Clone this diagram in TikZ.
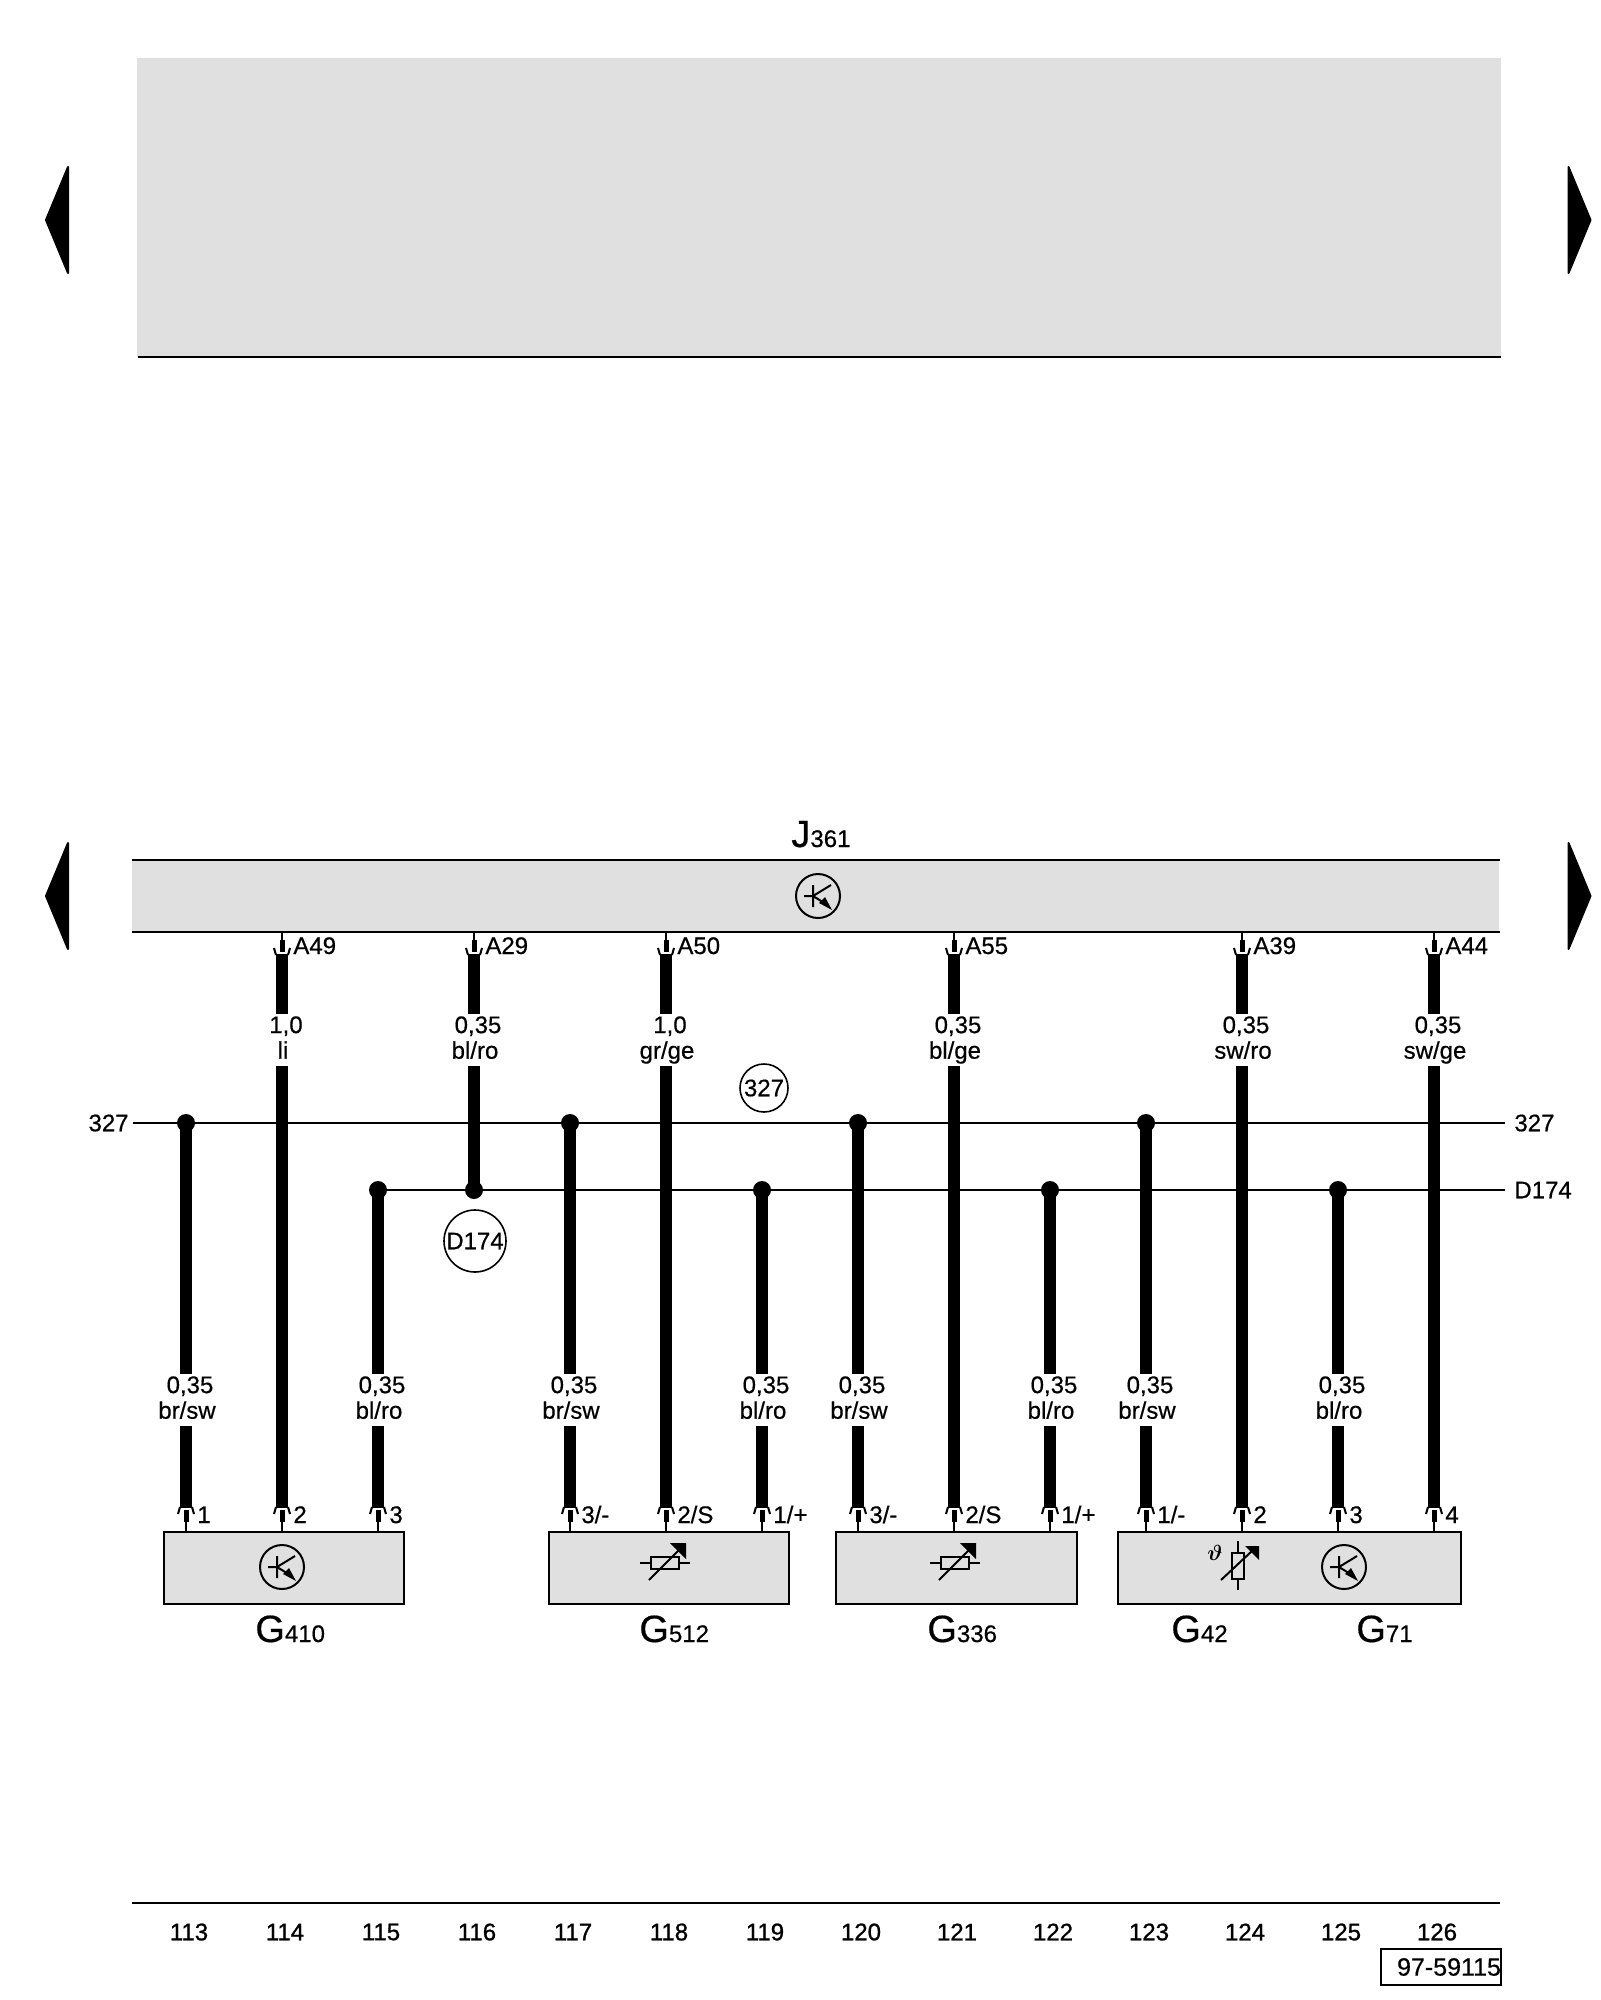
\documentclass[tikz,border=0pt]{standalone}
\usepackage{bm}
\usepackage{fontspec}
\setmainfont{Liberation Sans}[FakeBold=0.5]
\newfontfamily\footfont{Liberation Sans}[FakeBold=1.0]
\begin{document}
\begin{tikzpicture}[x=0.5pt, y=-0.5pt, every node/.style={align=center}]
    \definecolor{panelgray}{HTML}{E0E0E0}
    \tikzset{
      labeltxt/.style={font=\fontsize{12}{12.8}\selectfont},
      rule/.style={line width=1pt},
      bus/.style={line width=0.8pt},
      wire/.style={line width=6.4pt},
      wirelabel/.style={labeltxt, fill=white, inner xsep=1pt, inner ysep=0pt, minimum height=26pt},
      pinlabel/.style={labeltxt, inner sep=0pt, anchor=base west},
      buslabel/.style={labeltxt, inner ysep=0pt, inner xsep=2pt},
      junction/.style={circle, fill=black, inner sep=0pt, minimum size=9pt},
      ringlabel/.style={labeltxt, circle, draw, line width=0.8pt, inner sep=0pt},
      sensorbox/.style={draw, fill=panelgray, line width=1pt, inner sep=0pt, anchor=north west, minimum height=36pt},
      bigname/.style={font=\fontsize{19}{19}\selectfont, inner sep=0pt, anchor=base west},
      flag/.style={fill=black, line width=1pt, draw, line join=round},
      pinend/.pic={
        \draw[line width=1pt] (-8,6) .. controls (-7.5,3) and (-6.5,2) .. (-6,-1);
        \draw[line width=1pt] (8,6) .. controls (7.5,3) and (6.5,2) .. (6,-1);
        \draw[line width=2.5pt] (0,2) -- (0,14);
        \draw[line width=0.8pt] (0,14) -- (0,23);
      },
      hallsym/.pic={
        \draw[line width=1pt] (0,0) circle [radius=22];
        \draw[line width=1pt] (-5,-11) -- (-5,11) (-14,0) -- (-5,0) -- (13,-11) (-5,0) -- (8,8);
        \fill (14,14) -- (1,7) -- (7,1) -- cycle;
      },
      varres/.pic={
        \draw[line width=1pt] (-25,0) -- (-14,0) (14,0) -- (25,0);
        \draw[line width=1pt] (-14,-6) rectangle (14,6);
        \draw[line width=1pt] (-16,17) -- (16,-15);
        \fill (5,-20) -- (21,-20) -- (21,-4) -- cycle;
      },
      varresv/.pic={
        \draw[line width=1pt] (0,-25) -- (0,-13) (0,13) -- (0,24);
        \draw[line width=1pt] (-6,-13) rectangle (6,13);
        \draw[line width=1pt] (-17,14) -- (15,-16);
        \fill (7,-20) -- (21,-20) -- (21,-6) -- cycle;
      }
    }
    \useasboundingbox (0,0) rectangle (1600,2000);

    \fill[panelgray] (137,58) rectangle (1501,357);
    \coordinate (panelL) at (138,357);
    \coordinate (panelR) at (1501,357);
    \draw[rule] (panelL) -- (panelR);

    \foreach \y in {220,896} {
      \fill[flag] (46,\y) -- (68,\y-53) -- (68,\y+53) -- cycle;
      \fill[flag] (1590.5,\y) -- (1568.5,\y-53) -- (1568.5,\y+53) -- cycle;
    }

    \node[fill=panelgray, inner sep=0pt, minimum width=683.5pt, minimum height=35.5pt, anchor=north west] (ecu) at (132,860) {};
    \draw[rule] (ecu.north west) -- (ecu.north east);
    \draw[rule] (ecu.south west) -- (ecu.south east);
    \node[bigname] (ecuname) at (791,847) {J\fontsize{12}{12}\selectfont 361};
    \pic at (818,896) {hallsym};

    \node[buslabel, anchor=east] (busAl) at (133,1123) {327};
    \node[buslabel, anchor=west, inner xsep=4.5pt] (busAr) at (1505,1123) {327};
    \node[buslabel, anchor=west, inner xsep=4.5pt] (busBr) at (1505,1190) {D174};
    \draw[bus] (busAl) -- (busAr);
    \node[ringlabel, minimum size=24pt] (ringA) at (764,1088) {327};
    \node[ringlabel, minimum size=31pt] (ringB) at (475,1241) {D174};

    % wires from J361 down to the sensors
    \foreach \px/\pinA/\size/\col/\pinB in {282/A49/{1,0}/li/2, 666/A50/{1,0}/{gr/ge}/{2/S}, 954/A55/{0,35}/{bl/ge}/{2/S}, 1242/A39/{0,35}/{sw/ro}/2, 1434/A44/{0,35}/{sw/ge}/4} {
      \pic[yscale=-1] at (\px,954) {pinend};
      \pic at (\px,1508) {pinend};
      \coordinate (up\pinA) at (\px,954);
      \coordinate (dn\pinA) at (\px,1508);
      \node[pinlabel] (txt\pinA) at (\px+11,954) {\pinA};
      \node[pinlabel] (pin\pinA) at (\px+11,1523) {\pinB};
      \draw[wire] (up\pinA) -- (dn\pinA);
      \node[wirelabel] (lbl\pinA) at (\px+1,1040) {\hspace*{3pt}\size\\\col\vphantom{g}};
    }

    % feed from J361 into D174
    \coordinate (upA29) at (474,954);
    \pic[yscale=-1] at (474,954) {pinend};
    \node[pinlabel] (txtA29) at (485,954) {A29};
    \node[junction] (nodeA29) at (474,1190) {};
    \draw[wire] (upA29) -- (nodeA29.center);
    \node[wirelabel] (lblA29) at (475,1040) {\hspace*{3pt}0,35\\bl/ro\vphantom{g}};

    % branches off 327
    \foreach \px/\pinB in {186/1, 570/{3/-}, 858/{3/-}, 1146/{1/-}} {
      \node[junction] (top\px) at (\px,1123) {};
      \coordinate (dn\px) at (\px,1508);
      \pic at (\px,1508) {pinend};
      \node[pinlabel] (pin\px) at (\px+11,1523) {\pinB};
      \draw[wire] (top\px.center) -- (dn\px);
      \node[wirelabel] (lbl\px) at (\px+1,1400) {\hspace*{3pt}0,35\\br/sw\vphantom{g}};
    }

    % branches off D174
    \foreach \px/\pinB in {378/3, 762/{1/+}, 1050/{1/+}, 1338/3} {
      \node[junction] (top\px) at (\px,1190) {};
      \coordinate (dn\px) at (\px,1508);
      \pic at (\px,1508) {pinend};
      \node[pinlabel] (pin\px) at (\px+11,1523) {\pinB};
      \draw[wire] (top\px.center) -- (dn\px);
      \node[wirelabel] (lbl\px) at (\px+1,1400) {\hspace*{3pt}0,35\\bl/ro\vphantom{g}};
    }
    \draw[bus] (top378) -- (busBr);

    \node[sensorbox, minimum width=120pt] (g410) at (163,1531) {};
    \node[sensorbox, minimum width=120pt] (g512) at (548,1531) {};
    \node[sensorbox, minimum width=120.5pt] (g336) at (835,1531) {};
    \node[sensorbox, minimum width=171.5pt] (g42) at (1117,1531) {};
    \pic at (282,1567) {hallsym};
    \pic at (665,1563) {varres};
    \pic at (955,1563) {varres};
    \pic at (1238,1566) {varresv};
    \pic at (1344,1567) {hallsym};
    \node[inner sep=0pt, font=\fontsize{10.5}{10.5}\selectfont] (theta) at (1215,1553) {$\bm{\vartheta}$};

    \node[bigname] (nameA) at (255,1642) {G\fontsize{12}{12}\selectfont 410};
    \node[bigname] (nameB) at (639,1642) {G\fontsize{12}{12}\selectfont 512};
    \node[bigname] (nameC) at (927,1642) {G\fontsize{12}{12}\selectfont 336};
    \node[bigname] (nameD) at (1171,1642) {G\fontsize{12}{12}\selectfont 42};
    \node[bigname] (nameE) at (1356,1642) {G\fontsize{12}{12}\selectfont 71};

    \coordinate (footL) at (132,1903);
    \coordinate (footR) at (1500,1903);
    \draw[rule] (footL) -- (footR);
    \foreach \num [count=\i from 0] in {113,...,126} {
      \node[font=\footfont\fontsize{12}{12.5}\selectfont, inner sep=0pt] (col\num) at (189+96*\i,1932) {\num};
    }
    \node[draw, line width=1pt, font=\fontsize{12.5}{12.5}\selectfont, inner sep=0pt, minimum width=60pt, minimum height=18pt, anchor=north west] (docno) at (1380,1948) {\hspace*{8pt}97-59115};
\end{tikzpicture}
\end{document}
